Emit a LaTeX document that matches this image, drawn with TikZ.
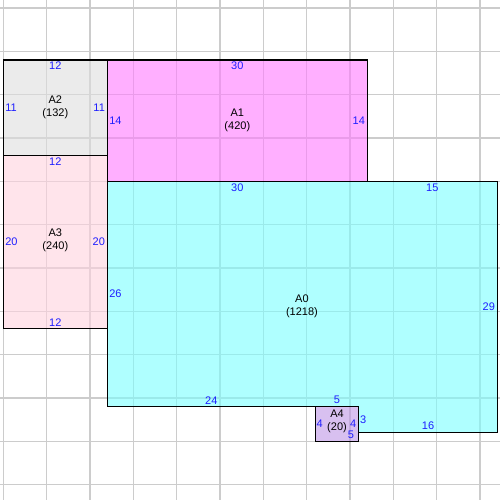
\documentclass[tikz,border=0pt]{standalone}
\usepackage{fontspec}
\setmainfont{Liberation Sans}
\definecolor{gridc}{RGB}{204,204,204}
\definecolor{fillA0}{RGB}{123,255,255}
\definecolor{fillA1}{RGB}{255,123,255}
\definecolor{fillA2}{RGB}{222,222,222}
\definecolor{fillA3}{RGB}{255,210,223}
\definecolor{fillA4}{RGB}{190,150,230}
\definecolor{lblblue}{RGB}{30,30,255}
\tikzset{
  gridline/.style={draw=gridc, line width=0.8pt},
  region/.style={fill opacity=0.6},
  outline/.style={draw=black, line width=0.9pt, line join=miter},
  edgelbl/.style={inner sep=0pt, text=lblblue, font=\fontsize{8.25}{9.75}\selectfont},
  namelbl/.style={inner sep=0pt, align=center, text=black, font=\fontsize{8.25}{9.75}\selectfont},
}
\begin{document}
\begin{tikzpicture}[x=6.5pt, y=-6.5pt]
\useasboundingbox (-0.3846,-6.923) rectangle (57.308,50.769);
\fill[white] (-0.3846,-6.923) rectangle (57.308,50.769);
% grid
\foreach \gx in {0,5,...,55} \draw[gridline] (\gx,-6.923) -- (\gx,50.769);
\foreach \gy in {-6,-1,...,49} \draw[gridline] (-0.3846,\gy) -- (57.308,\gy);
% fills
\fill[region, fillA2] (0,0) rectangle (12,11);
\fill[region, fillA1] (12,0) rectangle (42,14);
\fill[region, fillA3] (0,11) rectangle (12,31);
\fill[region, fillA0] (12,14) -- (57,14) -- (57,43) -- (41,43) -- (41,40) -- (12,40) -- cycle;
\fill[region, fillA4] (36,40) rectangle (41,44);
% outlines
\draw[outline] (0,0) rectangle (12,11);
\draw[outline] (12,0) rectangle (42,14);
\draw[outline] (0,11) rectangle (12,31);
\draw[outline] (12,14) -- (57,14) -- (57,43) -- (41,43) -- (41,40) -- (12,40) -- cycle;
\draw[outline] (36,40) rectangle (41,44);
% A2
\node[namelbl] (nA2) at (6,5.4) {A2\\(132)};
\node[edgelbl] (a2t) at (6,0.7) {12};
\node[edgelbl, anchor=west] (a2l) at (0.2,5.5) {11};
\node[edgelbl, anchor=east] (a2r) at (11.75,5.5) {11};
% A1
\node[namelbl] (nA1) at (27,6.95) {A1\\(420)};
\node[edgelbl] (a1t) at (27,0.7) {30};
\node[edgelbl, anchor=west] (a1l) at (12.2,6.95) {14};
\node[edgelbl, anchor=east] (a1r) at (41.75,6.95) {14};
% A3
\node[namelbl] (nA3) at (6,20.85) {A3\\(240)};
\node[edgelbl] (a3t) at (6,11.7) {12};
\node[edgelbl, anchor=west] (a3l) at (0.2,21) {20};
\node[edgelbl, anchor=east] (a3r) at (11.75,21) {20};
\node[edgelbl] (a3b) at (6,30.25) {12};
% A0
\node[namelbl] (nA0) at (34.45,28.4) {A0\\(1218)};
\node[edgelbl] (a0t1) at (27,14.7) {30};
\node[edgelbl] (a0t2) at (49.5,14.7) {15};
\node[edgelbl, anchor=east] (a0r) at (56.75,28.45) {29};
\node[edgelbl, anchor=west] (a0l) at (12.2,27) {26};
\node[edgelbl] (a0b1) at (24,39.25) {24};
\node[edgelbl] (a0b2) at (38.5,39.25) {5};
\node[edgelbl, anchor=west] (a0s) at (41.15,41.5) {3};
\node[edgelbl] (a0b3) at (49,42.25) {16};
% A4
\node[namelbl] (nA4) at (38.5,41.73) {A4\\(20)};
\node[edgelbl, anchor=west] (a4l) at (36.12,42) {4};
\node[edgelbl, anchor=east] (a4r) at (40.75,42) {4};
\node[edgelbl] (a4b) at (40.12,43.2) {5};
\end{tikzpicture}
\end{document}
